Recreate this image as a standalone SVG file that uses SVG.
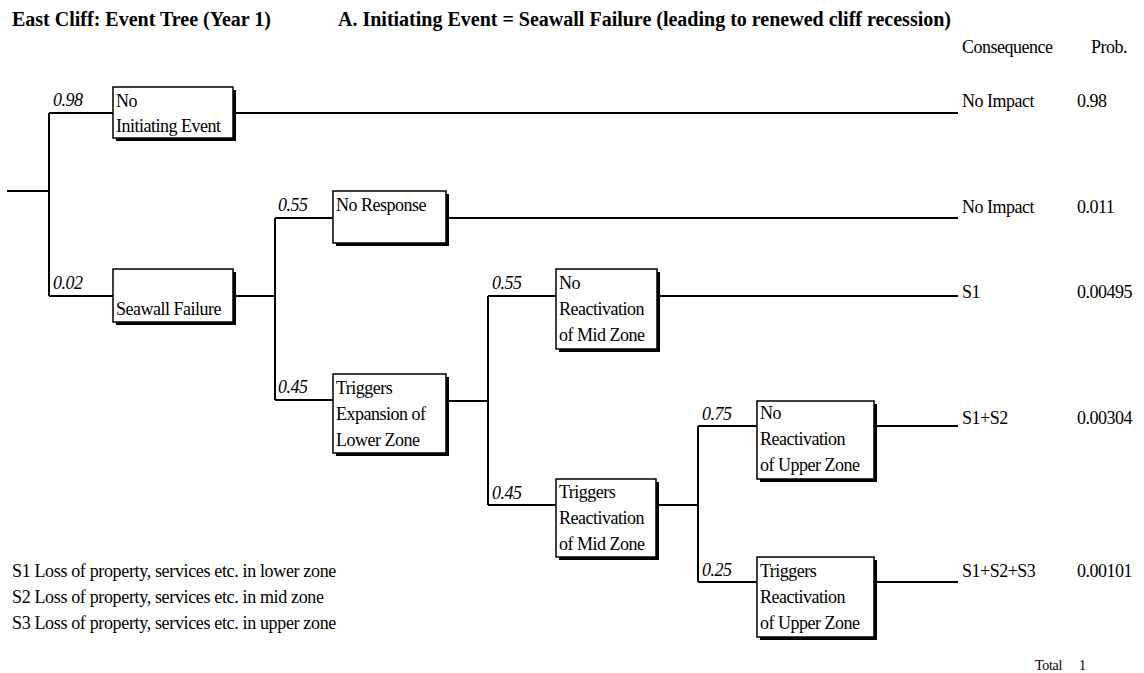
<svg xmlns="http://www.w3.org/2000/svg" width="1144" height="673" viewBox="0 0 1144 673" font-family="Liberation Serif, Tinos, DejaVu Serif, serif">
<style>
text{font-family:"Liberation Serif",Tinos,"DejaVu Serif",serif;font-size:18px;letter-spacing:-0.5px;fill:#000}
.title{font-weight:bold;font-size:20px;letter-spacing:0px}
.p{font-style:italic}
.lg{letter-spacing:-0.35px}
.sm{font-size:14px;letter-spacing:-0.3px}
.box{fill:#fff;stroke:#000;stroke-width:1.5}
.sh{fill:#000}
#connectors path{fill:none;stroke:#000;stroke-width:2}
</style>
<rect width="1144" height="673" fill="#fff"/>
<text class="title" x="12" y="26">East Cliff: Event Tree (Year 1)</text>
<text class="title" x="338" y="26">A. Initiating Event = Seawall Failure (leading to renewed cliff recession)</text>
<text x="962" y="53">Consequence</text>
<text x="1091" y="53">Prob.</text>

<g id="connectors">
<path d="M7,191H49M49,113V296M49,113H113M236,113H958"/>
<path d="M49,296H113M233,296H275M275,218V400M275,218H333M446,218H958M275,400H333"/>
<path d="M446,401H488M488,296V505M488,296H556M657,296H958M488,505H556"/>
<path d="M656,505H698M698,426V582M698,426H757M874,426H958M698,582H757M874,582H958"/>
</g>

<g id="labels">
<text class="p" x="53" y="106">0.98</text>
<text class="p" x="53" y="289">0.02</text>
<text class="p" x="278" y="211">0.55</text>
<text class="p" x="278" y="393">0.45</text>
<text class="p" x="492" y="289">0.55</text>
<text class="p" x="492" y="499">0.45</text>
<text class="p" x="702" y="420">0.75</text>
<text class="p" x="702" y="576">0.25</text>
</g>

<g id="n1"><rect class="sh" x="116" y="90" width="120" height="51"/><rect class="box" x="113" y="87" width="120" height="51"/>
<text x="116" y="107">No</text><text x="116" y="132">Initiating Event</text></g>
<g id="n2"><rect class="sh" x="116" y="272" width="120" height="53"/><rect class="box" x="113" y="269" width="120" height="53"/>
<text x="116" y="315">Seawall Failure</text></g>
<g id="n3"><rect class="sh" x="336" y="194" width="113" height="52"/><rect class="box" x="333" y="191" width="113" height="52"/>
<text x="336" y="211">No Response</text></g>
<g id="n4"><rect class="sh" x="336" y="377" width="113" height="79"/><rect class="box" x="333" y="374" width="113" height="79"/>
<text x="336" y="394">Triggers</text><text x="336" y="420">Expansion of</text><text x="336" y="446">Lower Zone</text></g>
<g id="n5"><rect class="sh" x="559" y="272" width="101" height="80"/><rect class="box" x="556" y="269" width="101" height="80"/>
<text x="559" y="289">No</text><text x="559" y="315">Reactivation</text><text x="559" y="341">of Mid Zone</text></g>
<g id="n6"><rect class="sh" x="559" y="482" width="100" height="78"/><rect class="box" x="556" y="479" width="100" height="78"/>
<text x="559" y="498">Triggers</text><text x="559" y="524">Reactivation</text><text x="559" y="550">of Mid Zone</text></g>
<g id="n7"><rect class="sh" x="760" y="404" width="117" height="78"/><rect class="box" x="757" y="401" width="117" height="78"/>
<text x="760" y="419">No</text><text x="760" y="445">Reactivation</text><text x="760" y="471">of Upper Zone</text></g>
<g id="n8"><rect class="sh" x="760" y="560" width="117" height="80"/><rect class="box" x="757" y="557" width="117" height="80"/>
<text x="760" y="577">Triggers</text><text x="760" y="603">Reactivation</text><text x="760" y="629">of Upper Zone</text></g>

<g id="outcomes">
<text x="962" y="107">No Impact</text><text x="1077" y="107">0.98</text>
<text x="962" y="213">No Impact</text><text x="1077" y="213">0.011</text>
<text x="962" y="298">S1</text><text x="1077" y="298">0.00495</text>
<text x="962" y="424">S1+S2</text><text x="1077" y="424">0.00304</text>
<text x="962" y="577">S1+S2+S3</text><text x="1077" y="577">0.00101</text>
<text class="sm" x="1035" y="670">Total</text><text class="sm" x="1079" y="670">1</text>
</g>

<g id="legend">
<text class="lg" x="12" y="577">S1 Loss of property, services etc. in lower zone</text>
<text class="lg" x="12" y="603">S2 Loss of property, services etc. in mid zone</text>
<text class="lg" x="12" y="629">S3 Loss of property, services etc. in upper zone</text>
</g>
</svg>
